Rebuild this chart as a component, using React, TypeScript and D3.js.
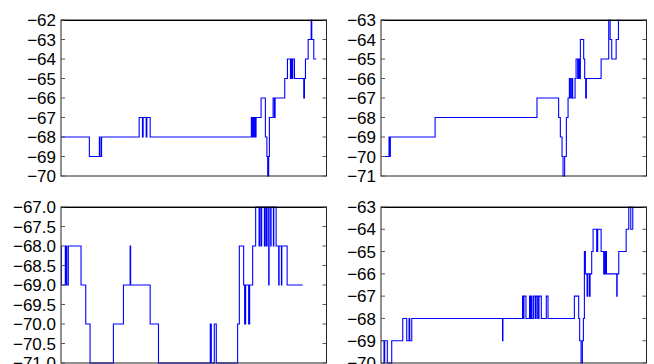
import * as d3 from 'd3';

// each run: [time, value] — value holds until the next time
const tlRuns: [number, number][] = [
  [0, -68], [28.3, -69], [38.3, -68], [39, -69], [40.5, -68], [78, -67], [81.3, -68], [82, -67],
  [85, -68], [85.7, -67], [89, -68], [190, -67], [191, -68], [191.7, -67], [192.3, -68], [193, -67],
  [193.7, -68], [194.7, -67], [199.7, -66], [204, -68], [205.5, -69], [206.3, -70], [207.3, -69],
  [208, -67], [211.7, -66], [213, -67], [213.7, -66], [223.3, -65], [226, -64], [229, -65],
  [229.7, -64], [230.7, -65], [231.3, -64], [233, -65], [242.3, -66], [243, -65], [244, -64],
  [246.7, -63], [249.7, -62], [250.3, -63], [252.3, -64],
];
const tlEnd = 254.7;

const trRuns: [number, number][] = [
  [0, -70], [8, -69], [8.7, -70], [9.3, -69], [54, -68], [155.7, -67], [177.3, -68], [179, -69],
  [180.7, -70], [181.7, -71], [183.3, -70], [185, -68], [186.7, -67], [188, -66], [189, -67],
  [190.3, -66], [191.3, -67], [193.7, -66], [194.7, -65], [196.3, -66], [197, -65], [198, -66],
  [199, -64], [202.3, -65], [203.3, -66], [204.3, -67], [205, -66], [219.7, -65], [227.3, -63],
  [228.7, -64], [230.3, -65], [234.7, -64], [237, -63],
];
const trEnd = 238;

const blRuns: [number, number][] = [
  [0, -68], [0.3, -69], [4.3, -68], [4.8, -69], [5.3, -68], [5.8, -69], [7.3, -68], [20, -69],
  [24.7, -70], [29, -71], [52.3, -70], [62.3, -69], [69, -68], [69.5, -69], [89, -70], [97.3, -71],
  [149, -70], [150, -71], [153, -70], [155, -71], [176.3, -70], [178, -68], [182.3, -69],
  [183.3, -70], [184.3, -69], [187.3, -70], [188.3, -69], [191.3, -68], [194.3, -67], [197.7, -68],
  [198.3, -67], [199.7, -68], [200.3, -67], [203, -68], [203.7, -67], [205, -68], [205.7, -67],
  [207.3, -69], [207.7, -67], [209.3, -68], [209.7, -67], [212, -68], [212.4, -67], [214.7, -68],
  [217.3, -69], [217.7, -68], [220, -69], [220.4, -68], [225.7, -69],
];
const blEnd = 241.3;

const brRuns: [number, number][] = [
  [0, -69], [3, -70], [3.7, -69], [6.3, -70], [10.7, -69], [21.7, -68], [25.7, -69], [28, -68],
  [28.7, -69], [30.7, -68], [121.3, -69], [121.7, -68], [141.3, -67], [142.3, -68], [142.7, -67],
  [144.7, -68], [148.3, -67], [149.3, -68], [149.7, -67], [150.7, -68], [152.3, -67], [154, -68],
  [154.3, -67], [155.7, -68], [156, -67], [157.3, -68], [157.7, -67], [160, -68], [165, -67],
  [166.7, -68], [193, -67], [197.3, -68], [198.3, -69], [199.7, -70], [201, -69], [202, -68],
  [203, -65], [204, -66], [205.7, -67], [206.3, -66], [208, -67], [208.7, -66], [210.3, -65],
  [211.7, -64], [215.3, -65], [216.3, -64], [219.7, -65], [222.3, -66], [223, -65], [223.7, -66],
  [224.3, -65], [225, -66], [235.3, -67], [235.7, -66], [237.3, -65], [244.7, -64], [247.3, -63],
  [249.3, -64], [251.3, -63],
];
const brEnd = 252;

const xDomain: [number, number] = [0, 265];

const panels = [
  { runs: tlRuns, end: tlEnd, y: [-70, -62], step: 1, fmt: 'd', col: 0, row: 0 },
  { runs: trRuns, end: trEnd, y: [-71, -63], step: 1, fmt: 'd', col: 1, row: 0 },
  { runs: blRuns, end: blEnd, y: [-71, -67], step: 0.5, fmt: '.1f', col: 0, row: 1 },
  { runs: brRuns, end: brEnd, y: [-70, -63], step: 1, fmt: 'd', col: 1, row: 1 },
];

const colX = [61, 381];
const rowY = [20, 207];
const pw = 265.5;
const ph = 156;

function Panel({ p, i }: { p: (typeof panels)[number]; i: number }) {
  const x0 = colX[p.col];
  const y0 = rowY[p.row];
  const x = d3.scaleLinear().domain(xDomain).range([x0, x0 + pw]);
  const y = d3.scaleLinear().domain(p.y).range([y0 + ph, y0]);
  const pts: [number, number][] = [...p.runs, [p.end, p.runs[p.runs.length - 1][1]]];
  const line = d3
    .line<[number, number]>()
    .x((d) => x(d[0]))
    .y((d) => y(d[1]))
    .curve(d3.curveStepAfter);
  const ticks = d3.range(p.y[0], p.y[1] + p.step / 2, p.step);
  const f = d3.format(p.fmt);
  return (
    <g>
      <clipPath id={`clip${i}`}>
        <rect x={x0} y={y0 - 1} width={pw} height={ph + 2} />
      </clipPath>
      <path d={line(pts) ?? ''} fill="none" stroke="#0000ff" strokeWidth={1.1} clipPath={`url(#clip${i})`} />
      <rect x={x0} y={y0} width={pw} height={ph} fill="none" stroke="#222" strokeWidth={1} />
      <line x1={x0} x2={x0 + pw} y1={y0 + 0.5} y2={y0 + 0.5} stroke="#000" />
      {ticks.map((t) => (
        <g key={t}>
          <line x1={x0} x2={x0 + 4} y1={y(t)} y2={y(t)} stroke="#555" />
          <line x1={x0 + pw - 4} x2={x0 + pw} y1={y(t)} y2={y(t)} stroke="#555" />
          <text
            x={x0 - 5}
            y={y(t)}
            dy="0.36em"
            textAnchor="end"
            fontFamily="'Liberation Sans', Arial, sans-serif"
            fontSize={17}
            fill="#000"
          >
            {f(t)}
          </text>
        </g>
      ))}
    </g>
  );
}

export default function App() {
  return (
    <svg
      width={654}
      height={364}
      style={{ position: 'absolute', left: 0, top: 0, background: '#fff' }}
    >
      <rect width={654} height={364} fill="#fff" />
      {panels.map((p, i) => (
        <Panel key={i} p={p} i={i} />
      ))}
    </svg>
  );
}
